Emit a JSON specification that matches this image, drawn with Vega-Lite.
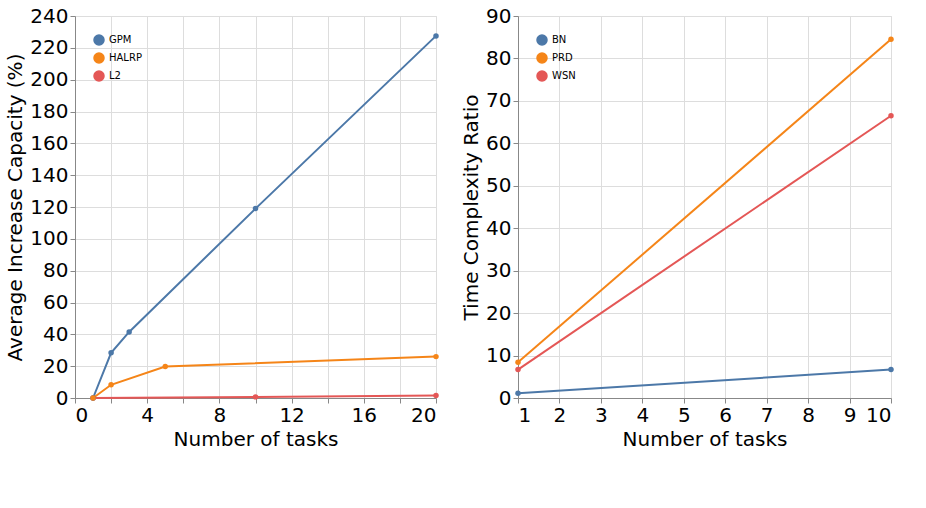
{
  "$schema": "https://vega.github.io/schema/vega-lite/v6.json",
  "config": {
    "font": "DejaVu Sans",
    "axis": {"labelFontSize": 20, "titleFontSize": 20, "titleFontWeight": "normal"}
  },
  "hconcat": [
    {
      "width": 361,
      "height": 382,
      "data": {"values": [
      {"m":"L2","t":1,"v":0},{"m":"L2","t":10,"v":0.7},{"m":"L2","t":20,"v":1.5},
      {"m":"GPM","t":1,"v":0},{"m":"GPM","t":2,"v":28.4},{"m":"GPM","t":3,"v":41.5},{"m":"GPM","t":10,"v":119},{"m":"GPM","t":20,"v":227.5},
      {"m":"HALRP","t":1,"v":0},{"m":"HALRP","t":2,"v":8.3},{"m":"HALRP","t":5,"v":19.8},{"m":"HALRP","t":20,"v":26.0}
      ]},
      "mark": {"type": "line", "point": true},
      "encoding": {
        "x": {"field": "t", "type": "quantitative", "title": "Number of tasks"},
        "y": {"field": "v", "type": "quantitative", "title": "Average Increase Capacity (%)"},
        "color": {"field": "m", "type": "nominal", "legend": {"title": null, "orient": "top-left"}}
      }
    },
    {
      "width": 373,
      "height": 382,
      "data": {"values": [
      {"m":"PRD","t":1,"v":8.4},{"m":"PRD","t":10,"v":84.5},
      {"m":"WSN","t":1,"v":6.7},{"m":"WSN","t":10,"v":66.5},
      {"m":"BN","t":1,"v":1.1},{"m":"BN","t":10,"v":6.7}
      ]},
      "mark": {"type": "line", "point": true},
      "encoding": {
        "x": {"field": "t", "type": "quantitative", "title": "Number of tasks"},
        "y": {"field": "v", "type": "quantitative", "title": "Time Complexity Ratio"},
        "color": {"field": "m", "type": "nominal", "legend": {"title": null, "orient": "top-left"}}
      }
    }
  ],
  "resolve": {"scale": {"color": "independent"}}
}
